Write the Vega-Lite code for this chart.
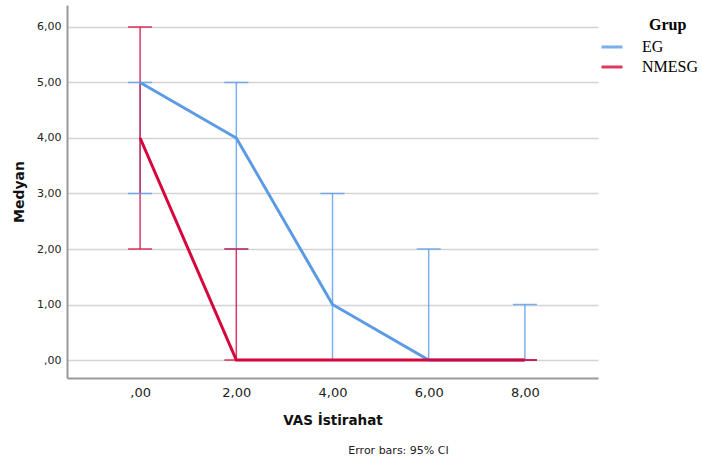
{
  "$schema": "https://vega.github.io/schema/vega-lite/v6.json",
  "width": 531,
  "height": 373,
  "autosize": "none",
  "padding": {"left": 67, "top": 5, "right": 104, "bottom": 79},
  "background": "white",
  "config": {"view": {"stroke": null}, "font": "DejaVu Sans"},
  "title": {"text": "Error bars: 95% CI", "orient": "bottom", "anchor": "middle", "dx": 66, "fontSize": 11, "fontWeight": "normal", "color": "#222222", "offset": 18, "font": "DejaVu Sans"},
  "data": {"values": [
    {"grup": "EG", "vas": 0, "median": 5, "lo": 3, "hi": 5},
    {"grup": "EG", "vas": 2, "median": 4, "lo": 2, "hi": 5},
    {"grup": "EG", "vas": 4, "median": 1, "lo": 0, "hi": 3},
    {"grup": "EG", "vas": 6, "median": 0, "lo": 0, "hi": 2},
    {"grup": "EG", "vas": 8, "median": 0, "lo": 0, "hi": 1},
    {"grup": "NMESG", "vas": 0, "median": 4, "lo": 2, "hi": 6},
    {"grup": "NMESG", "vas": 2, "median": 0, "lo": 0, "hi": 2},
    {"grup": "NMESG", "vas": 4, "median": 0, "lo": 0, "hi": 0},
    {"grup": "NMESG", "vas": 6, "median": 0, "lo": 0, "hi": 0},
    {"grup": "NMESG", "vas": 8, "median": 0, "lo": 0, "hi": 0}
  ]},
  "encoding": {
    "x": {"field": "vas", "type": "quantitative",
      "scale": {"domain": [-1.52, 9.52], "nice": false, "zero": false},
      "axis": {"values": [0, 2, 4, 6, 8], "labelExpr": "datum.value == 0 ? ',00' : replace(format(datum.value, '.2f'), '.', ',')",
        "grid": false, "ticks": false, "domainColor": "#999999", "domainWidth": 2,
        "title": "VAS İstirahat", "titleFontSize": 13.5, "titleFontWeight": "bold", "titleColor": "#111111",
        "labelFontSize": 13, "labelColor": "#222222", "labelPadding": 8, "titlePadding": 14}},
    "color": {"field": "grup", "type": "nominal",
      "scale": {"domain": ["EG", "NMESG"], "range": ["#5b9be6", "#d6063c"]},
      "legend": {"title": "Grup", "orient": "none", "legendX": 533, "legendY": 12,
        "symbolType": "stroke", "symbolStrokeWidth": 3, "symbolSize": 441,
        "titleFont": "Liberation Serif", "titleFontSize": 16, "titleFontWeight": "bold", "titleColor": "#000000",
        "titleAnchor": "middle", "titleAlign": "left",
        "labelFont": "Liberation Serif", "labelFontSize": 16, "labelColor": "#000000", "labelOffset": 18,
        "padding": 0, "rowPadding": 0, "titlePadding": 2}}
  },
  "layer": [
    {
      "mark": {"type": "rule", "strokeWidth": 1.5, "opacity": 0.8},
      "encoding": {
        "y": {"field": "lo", "type": "quantitative",
          "scale": {"domain": [-0.324, 6.396], "nice": false, "zero": false},
          "axis": {"values": [0, 1, 2, 3, 4, 5, 6], "labelExpr": "datum.value == 0 ? ',00' : replace(format(datum.value, '.2f'), '.', ',')",
            "grid": true, "gridColor": "#d4d4d4", "gridWidth": 1.5, "ticks": false, "domainColor": "#999999", "domainWidth": 2,
            "title": "Medyan", "titleFontSize": 14, "titleFontWeight": "bold", "titleColor": "#111111",
            "labelFontSize": 11, "labelColor": "#222222", "labelPadding": 6, "titlePadding": 10}},
        "y2": {"field": "hi"}
      }
    },
    {
      "mark": {"type": "tick", "orient": "horizontal", "size": 24, "thickness": 1.5, "opacity": 0.8},
      "encoding": {"y": {"field": "lo", "type": "quantitative"}}
    },
    {
      "mark": {"type": "tick", "orient": "horizontal", "size": 24, "thickness": 1.5, "opacity": 0.8},
      "encoding": {"y": {"field": "hi", "type": "quantitative"}}
    },
    {
      "mark": {"type": "line", "strokeWidth": 3},
      "encoding": {"y": {"field": "median", "type": "quantitative"}}
    }
  ]
}
